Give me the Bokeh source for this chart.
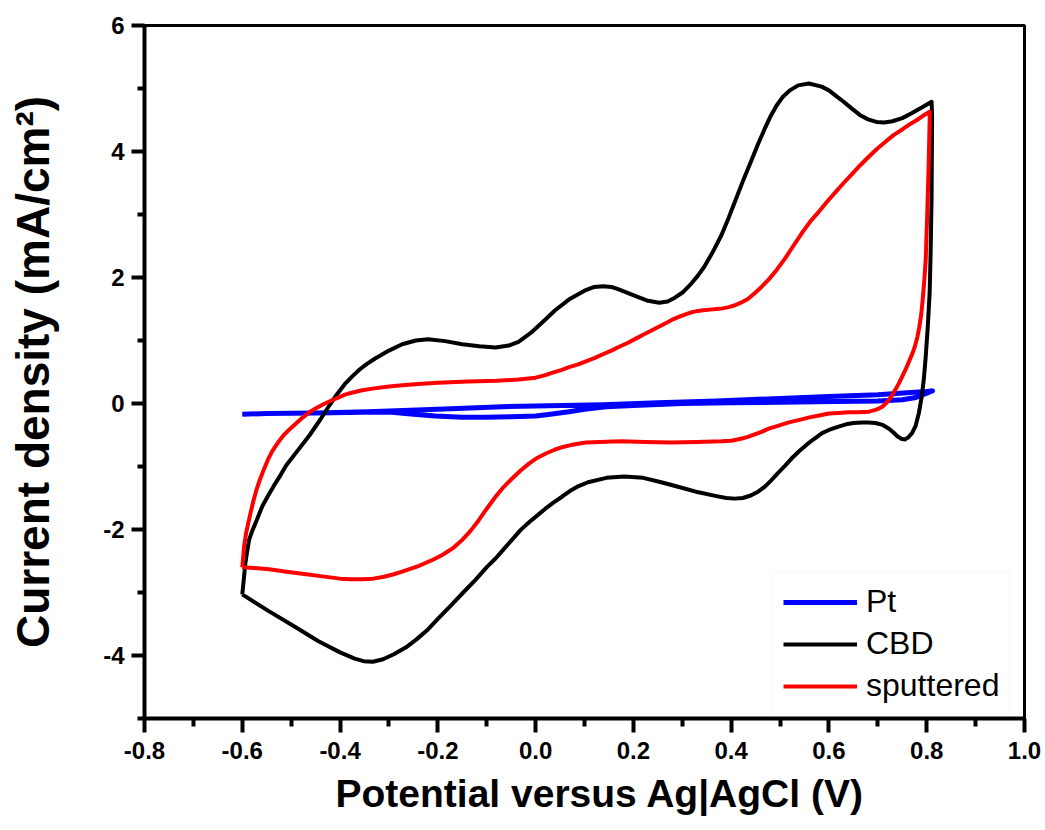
from bokeh.plotting import figure
from bokeh.models import Range1d, FixedTicker, Legend, LegendItem, Title
from bokeh.embed import file_html
from bokeh.resources import INLINE

# Cyclic voltammograms, potential (V vs Ag|AgCl) and current density (mA/cm2)

# Pt counter electrode
pt_v = [-0.600, -0.550, -0.450, -0.343, -0.200, -0.068, 0.138, 0.250, 0.370, 0.500,
        0.600, 0.700, 0.760, 0.800, 0.812,
        0.805, 0.790, 0.775, 0.750, 0.700, 0.613, 0.500, 0.400, 0.300, 0.200, 0.144,
        0.100, 0.068, 0.030, 0.000, -0.050, -0.103, -0.150, -0.205, -0.250, -0.294,
        -0.350, -0.450, -0.550, -0.600]
pt_i = [-0.17, -0.16, -0.15, -0.13, -0.09, -0.05, -0.02, 0.01, 0.04, 0.08,
        0.11, 0.14, 0.17, 0.19, 0.20,
        0.18, 0.13, 0.09, 0.06, 0.04, 0.03, 0.02, 0.01, 0.00, -0.03, -0.05,
        -0.09, -0.13, -0.17, -0.20, -0.21, -0.22, -0.22, -0.20, -0.17, -0.14,
        -0.14, -0.15, -0.16, -0.17]

# CBD film
cbd_v = [-0.600, -0.597, -0.594, -0.590, -0.586, -0.579, -0.572, -0.559, -0.547, -0.535,
         -0.522, -0.510, -0.486, -0.462, -0.440, -0.421, -0.405, -0.390, -0.375, -0.360,
         -0.345, -0.329, -0.300, -0.273, -0.245, -0.220, -0.185, -0.150, -0.115, -0.082,
         -0.055, -0.035, -0.010, 0.014, 0.040, 0.068, 0.100, 0.120, 0.138, 0.155,
         0.170, 0.206, 0.230, 0.253, 0.270, 0.285, 0.302, 0.318, 0.332, 0.345,
         0.362, 0.380, 0.395, 0.407, 0.425, 0.442, 0.455, 0.468, 0.480, 0.493,
         0.506, 0.520, 0.537, 0.559, 0.585, 0.600, 0.615, 0.630, 0.647, 0.665,
         0.680, 0.697, 0.713, 0.730, 0.750, 0.770, 0.790, 0.810,
         0.811, 0.810, 0.808, 0.806, 0.802, 0.798, 0.794, 0.790, 0.784, 0.777,
         0.770, 0.762, 0.755, 0.748, 0.740, 0.732, 0.723, 0.710, 0.695, 0.680,
         0.668, 0.650, 0.635, 0.618, 0.600, 0.586, 0.570, 0.555, 0.540, 0.524,
         0.510, 0.495, 0.482, 0.469, 0.455, 0.440, 0.424, 0.407, 0.390, 0.370,
         0.333, 0.295, 0.257, 0.220, 0.181, 0.145, 0.107, 0.088, 0.070, 0.054,
         0.037, 0.020, 0.003, -0.014, -0.031, -0.048, -0.066, -0.082, -0.099, -0.123,
         -0.148, -0.175, -0.200, -0.222, -0.243, -0.265, -0.290, -0.312, -0.333, -0.352,
         -0.370, -0.400, -0.445, -0.489, -0.545, -0.600]
cbd_i = [-3.03, -2.80, -2.55, -2.35, -2.16, -2.01, -1.88, -1.63, -1.46, -1.30,
         -1.14, -0.98, -0.74, -0.50, -0.25, -0.02, 0.16, 0.31, 0.43, 0.54,
         0.63, 0.71, 0.84, 0.94, 1.00, 1.02, 0.99, 0.94, 0.91, 0.89,
         0.92, 0.98, 1.12, 1.29, 1.48, 1.65, 1.79, 1.85, 1.86, 1.85,
         1.81, 1.70, 1.63, 1.60, 1.62, 1.68, 1.77, 1.90, 2.03, 2.17,
         2.40, 2.67, 2.95, 3.19, 3.55, 3.87, 4.12, 4.35, 4.55, 4.73,
         4.87, 4.97, 5.05, 5.08, 5.03, 4.97, 4.88, 4.79, 4.68, 4.57,
         4.51, 4.47, 4.46, 4.48, 4.53, 4.61, 4.70, 4.79,
         4.55, 3.30, 2.40, 1.76, 1.20, 0.75, 0.38, 0.12, -0.15, -0.36,
         -0.47, -0.54, -0.57, -0.56, -0.52, -0.46, -0.40, -0.34, -0.31, -0.30,
         -0.30, -0.31, -0.33, -0.37, -0.42, -0.47, -0.56, -0.65, -0.75, -0.87,
         -0.99, -1.11, -1.22, -1.32, -1.40, -1.46, -1.50, -1.51, -1.50, -1.47,
         -1.41, -1.33, -1.25, -1.18, -1.16, -1.18, -1.25, -1.31, -1.39, -1.48,
         -1.57, -1.67, -1.78, -1.89, -2.01, -2.16, -2.32, -2.46, -2.59, -2.80,
         -3.00, -3.22, -3.42, -3.60, -3.74, -3.87, -3.98, -4.06, -4.10, -4.09,
         -4.05, -3.95, -3.77, -3.56, -3.30, -3.03]

# sputtered film
sp_v = [-0.600, -0.598, -0.596, -0.592, -0.587, -0.582, -0.577, -0.571, -0.564, -0.556,
        -0.548, -0.539, -0.527, -0.515, -0.502, -0.489, -0.476, -0.463, -0.450, -0.436,
        -0.420, -0.405, -0.390, -0.376, -0.355, -0.330, -0.300, -0.273, -0.240, -0.200,
        -0.138, -0.080, -0.035, 0.000, 0.020, 0.035, 0.052, 0.070, 0.087, 0.103,
        0.120, 0.140, 0.155, 0.171, 0.188, 0.205, 0.222, 0.240, 0.255, 0.270,
        0.282, 0.294, 0.308, 0.320, 0.332, 0.343, 0.357, 0.370, 0.383, 0.395,
        0.408, 0.420, 0.434, 0.448, 0.462, 0.477, 0.493, 0.510, 0.527, 0.545,
        0.562, 0.580, 0.597, 0.613, 0.630, 0.648, 0.665, 0.682, 0.698, 0.715,
        0.732, 0.750, 0.765, 0.780, 0.793, 0.806,
        0.806, 0.804, 0.801, 0.798, 0.795, 0.792, 0.789, 0.785, 0.781, 0.776,
        0.771, 0.765, 0.758, 0.750, 0.743, 0.736, 0.729, 0.722, 0.715, 0.709,
        0.702, 0.695, 0.682, 0.660, 0.640, 0.620, 0.600, 0.580, 0.560, 0.540,
        0.518, 0.497, 0.477, 0.462, 0.448, 0.434, 0.420, 0.400, 0.380, 0.330,
        0.277, 0.225, 0.175, 0.130, 0.103, 0.087, 0.072, 0.056, 0.040, 0.022,
        0.004, -0.013, -0.030, -0.048, -0.066, -0.083, -0.100, -0.117, -0.134, -0.152,
        -0.170, -0.190, -0.210, -0.240, -0.270, -0.290, -0.310, -0.332, -0.354, -0.378,
        -0.400, -0.440, -0.469, -0.510, -0.545, -0.575, -0.600]
sp_i = [-2.60, -2.42, -2.25, -2.05, -1.87, -1.70, -1.54, -1.37, -1.21, -1.05,
        -0.90, -0.76, -0.62, -0.50, -0.40, -0.31, -0.22, -0.14, -0.08, -0.02,
        0.04, 0.09, 0.14, 0.17, 0.21, 0.24, 0.27, 0.29, 0.31, 0.33,
        0.35, 0.36, 0.38, 0.41, 0.45, 0.49, 0.53, 0.58, 0.62, 0.67,
        0.72, 0.79, 0.84, 0.90, 0.96, 1.03, 1.10, 1.17, 1.23, 1.29,
        1.34, 1.38, 1.42, 1.45, 1.47, 1.48, 1.49, 1.50, 1.51, 1.53,
        1.56, 1.60, 1.66, 1.75, 1.85, 1.97, 2.12, 2.30, 2.50, 2.71,
        2.89, 3.05, 3.21, 3.35, 3.50, 3.65, 3.79, 3.92, 4.04, 4.15,
        4.26, 4.35, 4.43, 4.50, 4.57, 4.63,
        4.50, 3.80, 3.00, 2.29, 1.95, 1.67, 1.43, 1.22, 1.06, 0.91,
        0.80, 0.69, 0.56, 0.43, 0.32, 0.22, 0.13, 0.05, -0.01, -0.05,
        -0.08, -0.10, -0.13, -0.14, -0.14, -0.15, -0.16, -0.19, -0.22, -0.26,
        -0.30, -0.35, -0.40, -0.45, -0.49, -0.53, -0.56, -0.59, -0.60, -0.61,
        -0.62, -0.61, -0.60, -0.61, -0.62, -0.64, -0.66, -0.69, -0.73, -0.79,
        -0.86, -0.95, -1.06, -1.19, -1.33, -1.49, -1.67, -1.86, -2.03, -2.18,
        -2.30, -2.40, -2.48, -2.58, -2.66, -2.71, -2.75, -2.78, -2.79, -2.79,
        -2.78, -2.74, -2.71, -2.67, -2.63, -2.61, -2.60]

series_names = ["Pt", "CBD", "sputtered"]
series_colors = ["#0000ff", "#000000", "#ff0000"]

x_ticks = [-0.8, -0.6, -0.4, -0.2, 0.0, 0.2, 0.4, 0.6, 0.8, 1.0]
x_tick_labels = ["-0.8", "-0.6", "-0.4", "-0.2", "0.0", "0.2", "0.4", "0.6", "0.8", "1.0"]
x_minor = [-0.7, -0.5, -0.3, -0.1, 0.1, 0.3, 0.5, 0.7, 0.9]
y_ticks = [-4, -2, 0, 2, 4, 6]
y_tick_labels = ["-4", "-2", "0", "2", "4", "6"]
y_minor = [-5, -3, -1, 1, 3, 5]

x_title = "Potential versus Ag|AgCl (V)"
y_title = "Current density (mA/cm\u00b2)"

FONT = "Liberation Sans"

p = figure(width=1045, height=830, output_backend="svg", toolbar_location=None,
           x_range=Range1d(-0.8, 1.0), y_range=Range1d(-5, 6),
           min_border_left=144, min_border_right=21, min_border_top=25,
           min_border_bottom=112)
p.grid.visible = False
p.background_fill_color = "white"
p.border_fill_color = "white"
p.outline_line_color = "black"
p.outline_line_width = 3

r_pt = p.line(pt_v, pt_i, line_color=series_colors[0], line_width=5, line_join="round")
r_cbd = p.line(cbd_v, cbd_i, line_color=series_colors[1], line_width=4, line_join="round")
r_sp = p.line(sp_v, sp_i, line_color=series_colors[2], line_width=4, line_join="round")

legend = Legend(items=[LegendItem(label=series_names[0], renderers=[r_pt]),
                       LegendItem(label=series_names[1], renderers=[r_cbd]),
                       LegendItem(label=series_names[2], renderers=[r_sp])],
                location=(628, 3), margin=0, padding=10, spacing=5,
                glyph_width=74, glyph_height=36, label_height=36, label_standoff=9,
                label_text_font=FONT, label_text_font_size="32px",
                label_text_color="black", border_line_color="#eeeeee",
                border_line_width=1, background_fill_color="white",
                background_fill_alpha=1.0)
p.add_layout(legend, "center")

for ax in (p.xaxis[0], p.yaxis[0]):
    ax.axis_line_width = 4
    ax.axis_line_color = "black"
    ax.major_tick_line_width = 4
    ax.minor_tick_line_width = 4
    ax.major_tick_in = 0
    ax.minor_tick_in = 0
    ax.major_label_text_font = FONT
    ax.major_label_text_font_style = "bold"
    ax.major_label_text_font_size = "24px"
    ax.major_label_text_color = "black"

p.xaxis.ticker = FixedTicker(ticks=x_ticks, minor_ticks=x_minor)
p.xaxis.major_label_overrides = {t: s for t, s in zip(x_ticks, x_tick_labels)}
p.xaxis.major_tick_out = 14
p.xaxis.minor_tick_out = 8
p.xaxis.major_label_standoff = 9

p.yaxis.ticker = FixedTicker(ticks=y_ticks, minor_ticks=y_minor)
p.yaxis.major_label_overrides = {t: s for t, s in zip(y_ticks, y_tick_labels)}
p.yaxis.major_tick_out = 13
p.yaxis.minor_tick_out = 7
p.yaxis.major_label_standoff = 7
p.yaxis.axis_label = y_title
p.yaxis.axis_label_text_font = FONT
p.yaxis.axis_label_text_font_style = "bold"
p.yaxis.axis_label_text_font_size = "46px"
p.yaxis.axis_label_text_color = "black"
p.yaxis.axis_label_standoff = 41

# x-axis title as a side-panel title, so it can be shifted along the axis
p.add_layout(Title(text=x_title, align="left", offset=191, vertical_align="bottom",
                   standoff=16, text_font=FONT, text_font_style="bold",
                   text_font_size="39px", text_color="black"), "below")

open("out.html", "w").write(file_html(p, INLINE))
